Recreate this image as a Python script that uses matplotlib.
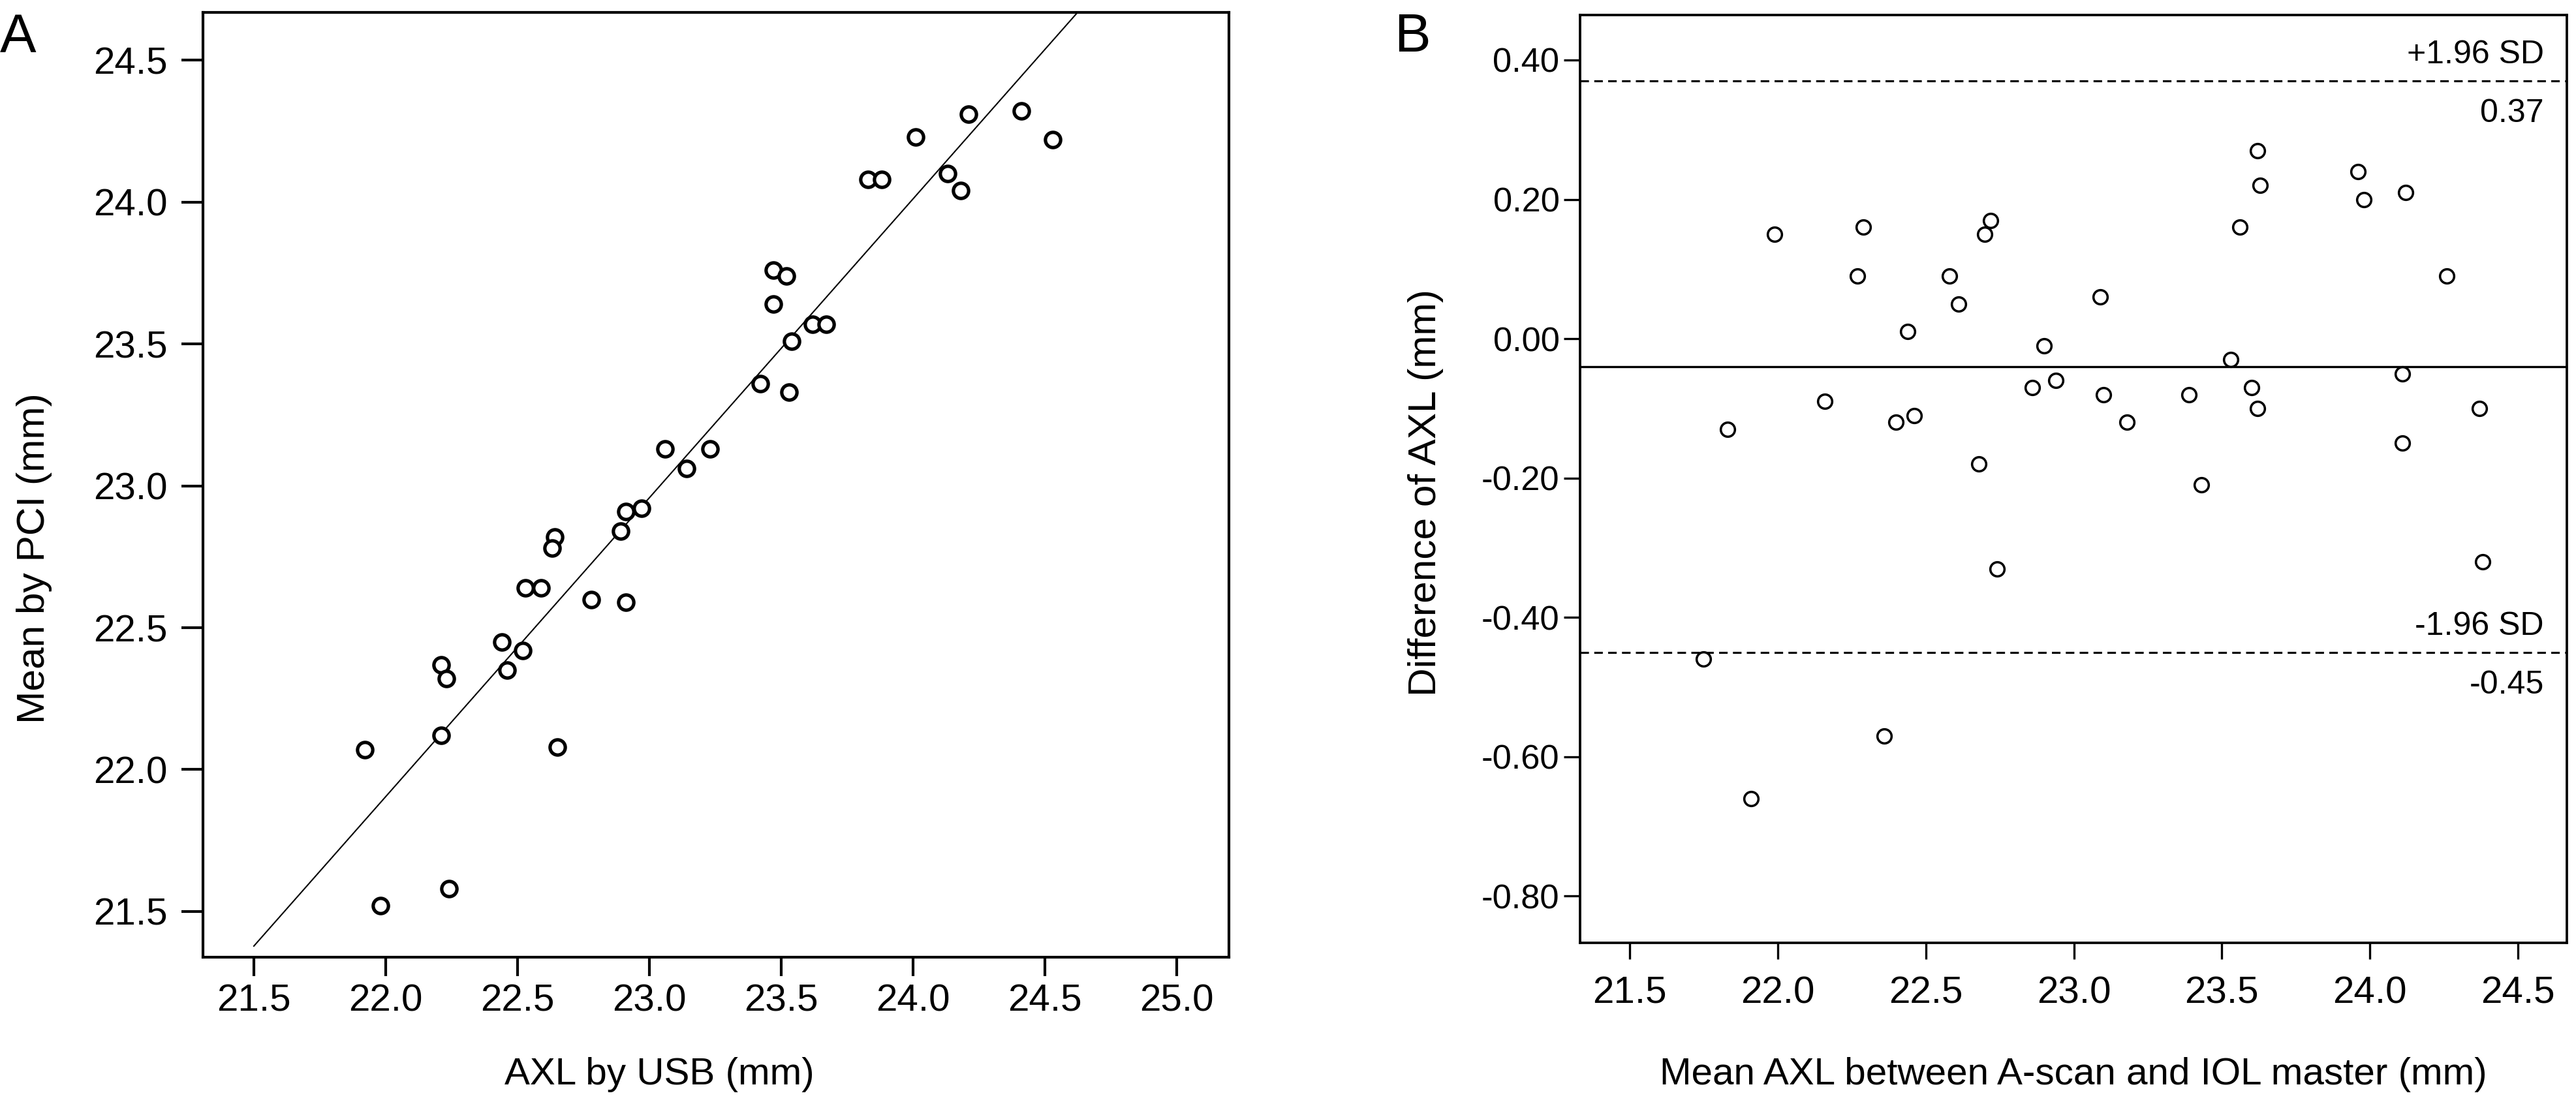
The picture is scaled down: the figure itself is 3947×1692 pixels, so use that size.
import numpy as np
import matplotlib
matplotlib.use('Agg')
import matplotlib.pyplot as plt

plt.rcParams['font.family'] = ['Liberation Sans', 'DejaVu Sans']
plt.rcParams['axes.unicode_minus'] = False

# Panel A: AXL by USB vs mean by PCI (mm)
usb_x = [24.21, 24.41, 24.53, 24.01, 23.83, 23.88, 24.13, 24.18, 23.47, 23.52,
         23.47, 23.62, 23.67, 23.54, 23.42, 23.53, 23.06, 23.23, 23.14, 22.91,
         22.97, 22.89, 22.64, 22.63, 22.53, 22.59, 22.78, 22.91, 22.44, 22.52,
         22.46, 22.21, 22.23, 22.21, 21.92, 22.65, 22.24, 21.98]
pci_y = [24.31, 24.32, 24.22, 24.23, 24.08, 24.08, 24.10, 24.04, 23.76, 23.74,
         23.64, 23.57, 23.57, 23.51, 23.36, 23.33, 23.13, 23.13, 23.06, 22.91,
         22.92, 22.84, 22.82, 22.78, 22.64, 22.64, 22.60, 22.59, 22.45, 22.42,
         22.35, 22.37, 22.32, 22.12, 22.07, 22.08, 21.58, 21.52]
a_xticks = [21.5, 22.0, 22.5, 23.0, 23.5, 24.0, 24.5, 25.0]
a_yticks = [21.5, 22.0, 22.5, 23.0, 23.5, 24.0, 24.5]

# Panel B: Bland-Altman
mean_x = [21.99, 22.29, 22.27, 22.72, 22.70, 22.58, 22.61, 22.44, 23.09, 22.90,
          23.62, 23.63, 23.56, 23.96, 23.98, 24.12, 24.26, 23.53, 24.11, 22.86,
          22.94, 23.10, 23.39, 23.60, 23.62, 23.18, 22.16, 21.83, 22.40, 22.46,
          22.68, 23.43, 24.11, 24.37, 22.74, 24.38, 21.75, 22.36, 21.91]
diff_y = [0.15, 0.16, 0.09, 0.17, 0.15, 0.09, 0.05, 0.01, 0.06, -0.01,
          0.27, 0.22, 0.16, 0.24, 0.20, 0.21, 0.09, -0.03, -0.05, -0.07,
          -0.06, -0.08, -0.08, -0.07, -0.10, -0.12, -0.09, -0.13, -0.12, -0.11,
          -0.18, -0.21, -0.15, -0.10, -0.33, -0.32, -0.46, -0.57, -0.66]
mean_diff = -0.04
upper_loa = 0.37
lower_loa = -0.45
b_xticks = [21.5, 22.0, 22.5, 23.0, 23.5, 24.0, 24.5]
b_yticks = [0.40, 0.20, 0.00, -0.20, -0.40, -0.60, -0.80]

W, H = 3947, 1692
fig = plt.figure(figsize=(W / 300, H / 300), dpi=300)

# ---------- Panel A ----------
ax1 = fig.add_axes([311 / W, 1 - 1467 / H, (1883 - 311) / W, (1467 - 19) / H])
ax1.plot(usb_x, pci_y, 'o', ms=5.6, mfc='white', mec='black', mew=1.25, zorder=3)
slope, intercept = np.polyfit(usb_x, pci_y, 1)
line_x = np.array([21.5, 25.0])
ax1.plot(line_x, intercept + slope * line_x, color='black', lw=0.5, zorder=2)
ax1.set_xlim(21.307, 25.198)
ax1.set_ylim(21.339, 24.668)
ax1.set_xticks(a_xticks)
ax1.set_xticklabels([f'{v:.1f}' for v in a_xticks])
ax1.set_yticks(a_yticks)
ax1.set_yticklabels([f'{v:.1f}' for v in a_yticks])
ax1.tick_params(axis='x', direction='out', length=7, width=1.0, pad=2.6, labelsize=14)
ax1.tick_params(axis='y', direction='out', length=8, width=1.0, pad=5, labelsize=14)
for s in ax1.spines.values():
    s.set_linewidth(1.0)
ax1.set_xlabel('AXL by USB (mm)', fontsize=14)
ax1.set_ylabel('Mean by PCI (mm)', fontsize=14.5)
ax1.xaxis.set_label_coords(0.445, -0.106)
ax1.yaxis.set_label_coords(-0.147, 0.422)

# ---------- Panel B ----------
ax2 = fig.add_axes([2420.7 / W, 1 - 1445 / H, (3933 - 2420.7) / W, (1445 - 23) / H])
ax2.plot(mean_x, diff_y, 'o', ms=5.2, mfc='white', mec='black', mew=0.85, zorder=3)
ax2.axhline(mean_diff, color='black', lw=0.8)
ax2.axhline(upper_loa, color='black', lw=0.75, dashes=(4.2, 2.6))
ax2.axhline(lower_loa, color='black', lw=0.75, dashes=(4.2, 2.6))
ax2.set_xlim(21.332, 24.665)
ax2.set_ylim(-0.867, 0.4646)
ax2.set_xticks(b_xticks)
ax2.set_xticklabels([f'{v:.1f}' for v in b_xticks])
ax2.set_yticks(b_yticks)
ax2.set_yticklabels([f'{v:.2f}' for v in b_yticks])
ax2.tick_params(axis='x', direction='out', length=6, width=0.8, pad=6, labelsize=14)
ax2.tick_params(axis='y', direction='out', length=6, width=0.8, pad=1.5, labelsize=12.6)
for s in ax2.spines.values():
    s.set_linewidth(0.9)

xr = (3898 - 2420.7) / (3933 - 2420.7)
for yv, top_txt, bot_txt in [(upper_loa, '+1.96 SD', f'{upper_loa:.2f}'),
                             (lower_loa, '-1.96 SD', f'{lower_loa:.2f}')]:
    ax2.annotate(top_txt, xy=(xr, yv), xycoords=('axes fraction', 'data'),
                 xytext=(0, 6.5), textcoords='offset points',
                 ha='right', va='baseline', fontsize=12)
    ax2.annotate(bot_txt, xy=(xr, yv), xycoords=('axes fraction', 'data'),
                 xytext=(0, -15.2), textcoords='offset points',
                 ha='right', va='baseline', fontsize=12)

ax2.set_xlabel('Mean AXL between A-scan and IOL master (mm)', fontsize=14)
ax2.set_ylabel('Difference of AXL (mm)', fontsize=14.5)
ax2.xaxis.set_label_coords(0.5, -0.123)
ax2.yaxis.set_label_coords(-0.138, 0.485)

fig.text(0.0, 1 - 80 / H, 'A', fontsize=20, ha='left', va='baseline')
fig.text(2136 / W, 1 - 79 / H, 'B', fontsize=20, ha='left', va='baseline')

fig.savefig('out.png', dpi=300)
